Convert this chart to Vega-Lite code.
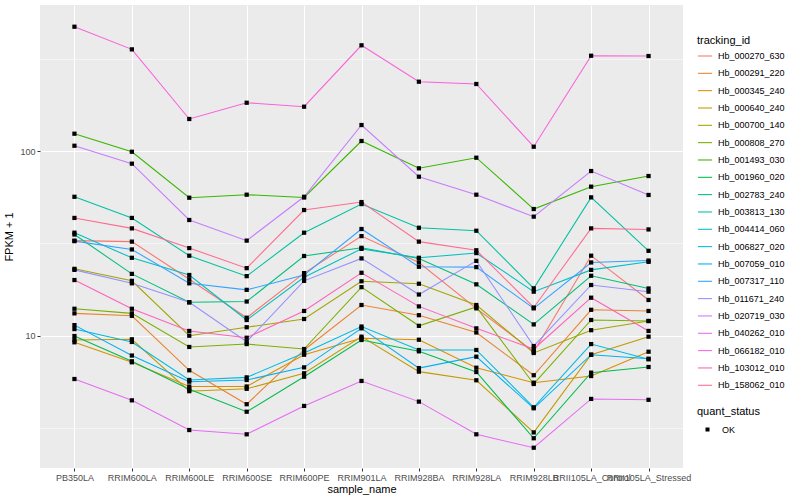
{
 "$schema": "https://vega.github.io/schema/vega-lite/v6.json",
 "autosize": "none",
 "width": 643,
 "height": 463,
 "padding": {"left": 40, "top": 5, "right": 117, "bottom": 32},
 "background": "white",
 "config": {
  "font": "Liberation Sans",
  "view": {"fill": "#EBEBEB", "stroke": null},
  "axis": {"domain": false, "labelColor": "#4D4D4D", "labelFontSize": 9, "titleFontSize": 11, "titleFontWeight": "normal", "titleColor": "black", "tickColor": "#333333", "tickSize": 3, "gridColor": "white", "gridWidth": 1.07, "labelPadding": 2},
  "legend": {"titleFontSize": 11, "titleFontWeight": "normal", "titleColor": "black", "labelFontSize": 9, "labelColor": "black", "padding": 0}
 },
 "data": {"values": [
{"tracking_id":"Hb_000270_630","sample_name":"PB350LA","fpkm":32.7,"quant_status":"OK"},
{"tracking_id":"Hb_000270_630","sample_name":"RRIM600LA","fpkm":32.3,"quant_status":"OK"},
{"tracking_id":"Hb_000270_630","sample_name":"RRIM600LE","fpkm":20.2,"quant_status":"OK"},
{"tracking_id":"Hb_000270_630","sample_name":"RRIM600SE","fpkm":12.5,"quant_status":"OK"},
{"tracking_id":"Hb_000270_630","sample_name":"RRIM600PE","fpkm":21.8,"quant_status":"OK"},
{"tracking_id":"Hb_000270_630","sample_name":"RRIM901LA","fpkm":34.6,"quant_status":"OK"},
{"tracking_id":"Hb_000270_630","sample_name":"RRIM928BA","fpkm":24.9,"quant_status":"OK"},
{"tracking_id":"Hb_000270_630","sample_name":"RRIM928LA","fpkm":14.05,"quant_status":"OK"},
{"tracking_id":"Hb_000270_630","sample_name":"RRIM928LB","fpkm":8.18,"quant_status":"OK"},
{"tracking_id":"Hb_000270_630","sample_name":"RRII105LA_Control","fpkm":27.1,"quant_status":"OK"},
{"tracking_id":"Hb_000270_630","sample_name":"RRII105LA_Stressed","fpkm":15.6,"quant_status":"OK"},
{"tracking_id":"Hb_000291_220","sample_name":"PB350LA","fpkm":13.2,"quant_status":"OK"},
{"tracking_id":"Hb_000291_220","sample_name":"RRIM600LA","fpkm":12.8,"quant_status":"OK"},
{"tracking_id":"Hb_000291_220","sample_name":"RRIM600LE","fpkm":6.49,"quant_status":"OK"},
{"tracking_id":"Hb_000291_220","sample_name":"RRIM600SE","fpkm":4.25,"quant_status":"OK"},
{"tracking_id":"Hb_000291_220","sample_name":"RRIM600PE","fpkm":8.36,"quant_status":"OK"},
{"tracking_id":"Hb_000291_220","sample_name":"RRIM901LA","fpkm":14.65,"quant_status":"OK"},
{"tracking_id":"Hb_000291_220","sample_name":"RRIM928BA","fpkm":12.9,"quant_status":"OK"},
{"tracking_id":"Hb_000291_220","sample_name":"RRIM928LA","fpkm":10.4,"quant_status":"OK"},
{"tracking_id":"Hb_000291_220","sample_name":"RRIM928LB","fpkm":6.1,"quant_status":"OK"},
{"tracking_id":"Hb_000291_220","sample_name":"RRII105LA_Control","fpkm":13.8,"quant_status":"OK"},
{"tracking_id":"Hb_000291_220","sample_name":"RRII105LA_Stressed","fpkm":13.6,"quant_status":"OK"},
{"tracking_id":"Hb_000345_240","sample_name":"PB350LA","fpkm":9.2,"quant_status":"OK"},
{"tracking_id":"Hb_000345_240","sample_name":"RRIM600LA","fpkm":7.17,"quant_status":"OK"},
{"tracking_id":"Hb_000345_240","sample_name":"RRIM600LE","fpkm":5.3,"quant_status":"OK"},
{"tracking_id":"Hb_000345_240","sample_name":"RRIM600SE","fpkm":5.3,"quant_status":"OK"},
{"tracking_id":"Hb_000345_240","sample_name":"RRIM600PE","fpkm":7.88,"quant_status":"OK"},
{"tracking_id":"Hb_000345_240","sample_name":"RRIM901LA","fpkm":9.67,"quant_status":"OK"},
{"tracking_id":"Hb_000345_240","sample_name":"RRIM928BA","fpkm":9.5,"quant_status":"OK"},
{"tracking_id":"Hb_000345_240","sample_name":"RRIM928LA","fpkm":6.7,"quant_status":"OK"},
{"tracking_id":"Hb_000345_240","sample_name":"RRIM928LB","fpkm":5.56,"quant_status":"OK"},
{"tracking_id":"Hb_000345_240","sample_name":"RRII105LA_Control","fpkm":6.04,"quant_status":"OK"},
{"tracking_id":"Hb_000345_240","sample_name":"RRII105LA_Stressed","fpkm":8.18,"quant_status":"OK"},
{"tracking_id":"Hb_000640_240","sample_name":"PB350LA","fpkm":9.47,"quant_status":"OK"},
{"tracking_id":"Hb_000640_240","sample_name":"RRIM600LA","fpkm":9.55,"quant_status":"OK"},
{"tracking_id":"Hb_000640_240","sample_name":"RRIM600LE","fpkm":5.0,"quant_status":"OK"},
{"tracking_id":"Hb_000640_240","sample_name":"RRIM600SE","fpkm":5.15,"quant_status":"OK"},
{"tracking_id":"Hb_000640_240","sample_name":"RRIM600PE","fpkm":6.25,"quant_status":"OK"},
{"tracking_id":"Hb_000640_240","sample_name":"RRIM901LA","fpkm":9.87,"quant_status":"OK"},
{"tracking_id":"Hb_000640_240","sample_name":"RRIM928BA","fpkm":6.38,"quant_status":"OK"},
{"tracking_id":"Hb_000640_240","sample_name":"RRIM928LA","fpkm":5.73,"quant_status":"OK"},
{"tracking_id":"Hb_000640_240","sample_name":"RRIM928LB","fpkm":2.99,"quant_status":"OK"},
{"tracking_id":"Hb_000640_240","sample_name":"RRII105LA_Control","fpkm":7.88,"quant_status":"OK"},
{"tracking_id":"Hb_000640_240","sample_name":"RRII105LA_Stressed","fpkm":9.87,"quant_status":"OK"},
{"tracking_id":"Hb_000700_140","sample_name":"PB350LA","fpkm":23.0,"quant_status":"OK"},
{"tracking_id":"Hb_000700_140","sample_name":"RRIM600LA","fpkm":19.8,"quant_status":"OK"},
{"tracking_id":"Hb_000700_140","sample_name":"RRIM600LE","fpkm":9.99,"quant_status":"OK"},
{"tracking_id":"Hb_000700_140","sample_name":"RRIM600SE","fpkm":11.1,"quant_status":"OK"},
{"tracking_id":"Hb_000700_140","sample_name":"RRIM600PE","fpkm":12.3,"quant_status":"OK"},
{"tracking_id":"Hb_000700_140","sample_name":"RRIM901LA","fpkm":19.7,"quant_status":"OK"},
{"tracking_id":"Hb_000700_140","sample_name":"RRIM928BA","fpkm":19.1,"quant_status":"OK"},
{"tracking_id":"Hb_000700_140","sample_name":"RRIM928LA","fpkm":14.65,"quant_status":"OK"},
{"tracking_id":"Hb_000700_140","sample_name":"RRIM928LB","fpkm":8.05,"quant_status":"OK"},
{"tracking_id":"Hb_000700_140","sample_name":"RRII105LA_Control","fpkm":10.7,"quant_status":"OK"},
{"tracking_id":"Hb_000700_140","sample_name":"RRII105LA_Stressed","fpkm":12.0,"quant_status":"OK"},
{"tracking_id":"Hb_000808_270","sample_name":"PB350LA","fpkm":13.98,"quant_status":"OK"},
{"tracking_id":"Hb_000808_270","sample_name":"RRIM600LA","fpkm":13.2,"quant_status":"OK"},
{"tracking_id":"Hb_000808_270","sample_name":"RRIM600LE","fpkm":8.68,"quant_status":"OK"},
{"tracking_id":"Hb_000808_270","sample_name":"RRIM600SE","fpkm":9.0,"quant_status":"OK"},
{"tracking_id":"Hb_000808_270","sample_name":"RRIM600PE","fpkm":8.46,"quant_status":"OK"},
{"tracking_id":"Hb_000808_270","sample_name":"RRIM901LA","fpkm":18.3,"quant_status":"OK"},
{"tracking_id":"Hb_000808_270","sample_name":"RRIM928BA","fpkm":11.3,"quant_status":"OK"},
{"tracking_id":"Hb_000808_270","sample_name":"RRIM928LA","fpkm":14.3,"quant_status":"OK"},
{"tracking_id":"Hb_000808_270","sample_name":"RRIM928LB","fpkm":5.47,"quant_status":"OK"},
{"tracking_id":"Hb_000808_270","sample_name":"RRII105LA_Control","fpkm":12.15,"quant_status":"OK"},
{"tracking_id":"Hb_000808_270","sample_name":"RRII105LA_Stressed","fpkm":12.0,"quant_status":"OK"},
{"tracking_id":"Hb_001493_030","sample_name":"PB350LA","fpkm":124.1,"quant_status":"OK"},
{"tracking_id":"Hb_001493_030","sample_name":"RRIM600LA","fpkm":99.1,"quant_status":"OK"},
{"tracking_id":"Hb_001493_030","sample_name":"RRIM600LE","fpkm":55.85,"quant_status":"OK"},
{"tracking_id":"Hb_001493_030","sample_name":"RRIM600SE","fpkm":58.0,"quant_status":"OK"},
{"tracking_id":"Hb_001493_030","sample_name":"RRIM600PE","fpkm":56.0,"quant_status":"OK"},
{"tracking_id":"Hb_001493_030","sample_name":"RRIM901LA","fpkm":113.3,"quant_status":"OK"},
{"tracking_id":"Hb_001493_030","sample_name":"RRIM928BA","fpkm":80.6,"quant_status":"OK"},
{"tracking_id":"Hb_001493_030","sample_name":"RRIM928LA","fpkm":92.0,"quant_status":"OK"},
{"tracking_id":"Hb_001493_030","sample_name":"RRIM928LB","fpkm":48.5,"quant_status":"OK"},
{"tracking_id":"Hb_001493_030","sample_name":"RRII105LA_Control","fpkm":64.1,"quant_status":"OK"},
{"tracking_id":"Hb_001493_030","sample_name":"RRII105LA_Stressed","fpkm":73.2,"quant_status":"OK"},
{"tracking_id":"Hb_001960_020","sample_name":"PB350LA","fpkm":9.95,"quant_status":"OK"},
{"tracking_id":"Hb_001960_020","sample_name":"RRIM600LA","fpkm":7.26,"quant_status":"OK"},
{"tracking_id":"Hb_001960_020","sample_name":"RRIM600LE","fpkm":5.12,"quant_status":"OK"},
{"tracking_id":"Hb_001960_020","sample_name":"RRIM600SE","fpkm":3.87,"quant_status":"OK"},
{"tracking_id":"Hb_001960_020","sample_name":"RRIM600PE","fpkm":5.99,"quant_status":"OK"},
{"tracking_id":"Hb_001960_020","sample_name":"RRIM901LA","fpkm":9.47,"quant_status":"OK"},
{"tracking_id":"Hb_001960_020","sample_name":"RRIM928BA","fpkm":8.22,"quant_status":"OK"},
{"tracking_id":"Hb_001960_020","sample_name":"RRIM928LA","fpkm":6.35,"quant_status":"OK"},
{"tracking_id":"Hb_001960_020","sample_name":"RRIM928LB","fpkm":2.78,"quant_status":"OK"},
{"tracking_id":"Hb_001960_020","sample_name":"RRII105LA_Control","fpkm":6.3,"quant_status":"OK"},
{"tracking_id":"Hb_001960_020","sample_name":"RRII105LA_Stressed","fpkm":6.76,"quant_status":"OK"},
{"tracking_id":"Hb_002783_240","sample_name":"PB350LA","fpkm":35.3,"quant_status":"OK"},
{"tracking_id":"Hb_002783_240","sample_name":"RRIM600LA","fpkm":21.6,"quant_status":"OK"},
{"tracking_id":"Hb_002783_240","sample_name":"RRIM600LE","fpkm":15.15,"quant_status":"OK"},
{"tracking_id":"Hb_002783_240","sample_name":"RRIM600SE","fpkm":15.3,"quant_status":"OK"},
{"tracking_id":"Hb_002783_240","sample_name":"RRIM600PE","fpkm":27.0,"quant_status":"OK"},
{"tracking_id":"Hb_002783_240","sample_name":"RRIM901LA","fpkm":29.9,"quant_status":"OK"},
{"tracking_id":"Hb_002783_240","sample_name":"RRIM928BA","fpkm":26.2,"quant_status":"OK"},
{"tracking_id":"Hb_002783_240","sample_name":"RRIM928LA","fpkm":18.96,"quant_status":"OK"},
{"tracking_id":"Hb_002783_240","sample_name":"RRIM928LB","fpkm":11.5,"quant_status":"OK"},
{"tracking_id":"Hb_002783_240","sample_name":"RRII105LA_Control","fpkm":21.1,"quant_status":"OK"},
{"tracking_id":"Hb_002783_240","sample_name":"RRII105LA_Stressed","fpkm":18.0,"quant_status":"OK"},
{"tracking_id":"Hb_003813_130","sample_name":"PB350LA","fpkm":56.5,"quant_status":"OK"},
{"tracking_id":"Hb_003813_130","sample_name":"RRIM600LA","fpkm":43.4,"quant_status":"OK"},
{"tracking_id":"Hb_003813_130","sample_name":"RRIM600LE","fpkm":27.1,"quant_status":"OK"},
{"tracking_id":"Hb_003813_130","sample_name":"RRIM600SE","fpkm":21.0,"quant_status":"OK"},
{"tracking_id":"Hb_003813_130","sample_name":"RRIM600PE","fpkm":36.1,"quant_status":"OK"},
{"tracking_id":"Hb_003813_130","sample_name":"RRIM901LA","fpkm":51.6,"quant_status":"OK"},
{"tracking_id":"Hb_003813_130","sample_name":"RRIM928BA","fpkm":38.4,"quant_status":"OK"},
{"tracking_id":"Hb_003813_130","sample_name":"RRIM928LA","fpkm":37.0,"quant_status":"OK"},
{"tracking_id":"Hb_003813_130","sample_name":"RRIM928LB","fpkm":18.04,"quant_status":"OK"},
{"tracking_id":"Hb_003813_130","sample_name":"RRII105LA_Control","fpkm":56.1,"quant_status":"OK"},
{"tracking_id":"Hb_003813_130","sample_name":"RRII105LA_Stressed","fpkm":28.8,"quant_status":"OK"},
{"tracking_id":"Hb_004414_060","sample_name":"PB350LA","fpkm":36.1,"quant_status":"OK"},
{"tracking_id":"Hb_004414_060","sample_name":"RRIM600LA","fpkm":26.4,"quant_status":"OK"},
{"tracking_id":"Hb_004414_060","sample_name":"RRIM600LE","fpkm":21.3,"quant_status":"OK"},
{"tracking_id":"Hb_004414_060","sample_name":"RRIM600SE","fpkm":12.15,"quant_status":"OK"},
{"tracking_id":"Hb_004414_060","sample_name":"RRIM600PE","fpkm":20.7,"quant_status":"OK"},
{"tracking_id":"Hb_004414_060","sample_name":"RRIM901LA","fpkm":29.5,"quant_status":"OK"},
{"tracking_id":"Hb_004414_060","sample_name":"RRIM928BA","fpkm":26.4,"quant_status":"OK"},
{"tracking_id":"Hb_004414_060","sample_name":"RRIM928LA","fpkm":28.0,"quant_status":"OK"},
{"tracking_id":"Hb_004414_060","sample_name":"RRIM928LB","fpkm":17.3,"quant_status":"OK"},
{"tracking_id":"Hb_004414_060","sample_name":"RRII105LA_Control","fpkm":22.7,"quant_status":"OK"},
{"tracking_id":"Hb_004414_060","sample_name":"RRII105LA_Stressed","fpkm":25.1,"quant_status":"OK"},
{"tracking_id":"Hb_006827_020","sample_name":"PB350LA","fpkm":10.85,"quant_status":"OK"},
{"tracking_id":"Hb_006827_020","sample_name":"RRIM600LA","fpkm":9.24,"quant_status":"OK"},
{"tracking_id":"Hb_006827_020","sample_name":"RRIM600LE","fpkm":5.75,"quant_status":"OK"},
{"tracking_id":"Hb_006827_020","sample_name":"RRIM600SE","fpkm":5.94,"quant_status":"OK"},
{"tracking_id":"Hb_006827_020","sample_name":"RRIM600PE","fpkm":8.05,"quant_status":"OK"},
{"tracking_id":"Hb_006827_020","sample_name":"RRIM901LA","fpkm":11.2,"quant_status":"OK"},
{"tracking_id":"Hb_006827_020","sample_name":"RRIM928BA","fpkm":8.36,"quant_status":"OK"},
{"tracking_id":"Hb_006827_020","sample_name":"RRIM928LA","fpkm":8.36,"quant_status":"OK"},
{"tracking_id":"Hb_006827_020","sample_name":"RRIM928LB","fpkm":4.09,"quant_status":"OK"},
{"tracking_id":"Hb_006827_020","sample_name":"RRII105LA_Control","fpkm":9.0,"quant_status":"OK"},
{"tracking_id":"Hb_006827_020","sample_name":"RRII105LA_Stressed","fpkm":7.44,"quant_status":"OK"},
{"tracking_id":"Hb_007059_010","sample_name":"PB350LA","fpkm":11.4,"quant_status":"OK"},
{"tracking_id":"Hb_007059_010","sample_name":"RRIM600LA","fpkm":7.8,"quant_status":"OK"},
{"tracking_id":"Hb_007059_010","sample_name":"RRIM600LE","fpkm":5.63,"quant_status":"OK"},
{"tracking_id":"Hb_007059_010","sample_name":"RRIM600SE","fpkm":5.75,"quant_status":"OK"},
{"tracking_id":"Hb_007059_010","sample_name":"RRIM600PE","fpkm":6.73,"quant_status":"OK"},
{"tracking_id":"Hb_007059_010","sample_name":"RRIM901LA","fpkm":10.95,"quant_status":"OK"},
{"tracking_id":"Hb_007059_010","sample_name":"RRIM928BA","fpkm":6.67,"quant_status":"OK"},
{"tracking_id":"Hb_007059_010","sample_name":"RRIM928LA","fpkm":7.69,"quant_status":"OK"},
{"tracking_id":"Hb_007059_010","sample_name":"RRIM928LB","fpkm":4.04,"quant_status":"OK"},
{"tracking_id":"Hb_007059_010","sample_name":"RRII105LA_Control","fpkm":7.88,"quant_status":"OK"},
{"tracking_id":"Hb_007059_010","sample_name":"RRII105LA_Stressed","fpkm":7.5,"quant_status":"OK"},
{"tracking_id":"Hb_007317_110","sample_name":"PB350LA","fpkm":32.5,"quant_status":"OK"},
{"tracking_id":"Hb_007317_110","sample_name":"RRIM600LA","fpkm":29.3,"quant_status":"OK"},
{"tracking_id":"Hb_007317_110","sample_name":"RRIM600LE","fpkm":19.2,"quant_status":"OK"},
{"tracking_id":"Hb_007317_110","sample_name":"RRIM600SE","fpkm":17.7,"quant_status":"OK"},
{"tracking_id":"Hb_007317_110","sample_name":"RRIM600PE","fpkm":21.3,"quant_status":"OK"},
{"tracking_id":"Hb_007317_110","sample_name":"RRIM901LA","fpkm":37.8,"quant_status":"OK"},
{"tracking_id":"Hb_007317_110","sample_name":"RRIM928BA","fpkm":23.6,"quant_status":"OK"},
{"tracking_id":"Hb_007317_110","sample_name":"RRIM928LA","fpkm":23.5,"quant_status":"OK"},
{"tracking_id":"Hb_007317_110","sample_name":"RRIM928LB","fpkm":14.05,"quant_status":"OK"},
{"tracking_id":"Hb_007317_110","sample_name":"RRII105LA_Control","fpkm":24.9,"quant_status":"OK"},
{"tracking_id":"Hb_007317_110","sample_name":"RRII105LA_Stressed","fpkm":25.5,"quant_status":"OK"},
{"tracking_id":"Hb_011671_240","sample_name":"PB350LA","fpkm":22.7,"quant_status":"OK"},
{"tracking_id":"Hb_011671_240","sample_name":"RRIM600LA","fpkm":19.2,"quant_status":"OK"},
{"tracking_id":"Hb_011671_240","sample_name":"RRIM600LE","fpkm":15.15,"quant_status":"OK"},
{"tracking_id":"Hb_011671_240","sample_name":"RRIM600SE","fpkm":9.27,"quant_status":"OK"},
{"tracking_id":"Hb_011671_240","sample_name":"RRIM600PE","fpkm":19.8,"quant_status":"OK"},
{"tracking_id":"Hb_011671_240","sample_name":"RRIM901LA","fpkm":26.2,"quant_status":"OK"},
{"tracking_id":"Hb_011671_240","sample_name":"RRIM928BA","fpkm":16.7,"quant_status":"OK"},
{"tracking_id":"Hb_011671_240","sample_name":"RRIM928LA","fpkm":25.4,"quant_status":"OK"},
{"tracking_id":"Hb_011671_240","sample_name":"RRIM928LB","fpkm":8.78,"quant_status":"OK"},
{"tracking_id":"Hb_011671_240","sample_name":"RRII105LA_Control","fpkm":18.8,"quant_status":"OK"},
{"tracking_id":"Hb_011671_240","sample_name":"RRII105LA_Stressed","fpkm":17.3,"quant_status":"OK"},
{"tracking_id":"Hb_020719_030","sample_name":"PB350LA","fpkm":106.8,"quant_status":"OK"},
{"tracking_id":"Hb_020719_030","sample_name":"RRIM600LA","fpkm":85.4,"quant_status":"OK"},
{"tracking_id":"Hb_020719_030","sample_name":"RRIM600LE","fpkm":42.3,"quant_status":"OK"},
{"tracking_id":"Hb_020719_030","sample_name":"RRIM600SE","fpkm":32.7,"quant_status":"OK"},
{"tracking_id":"Hb_020719_030","sample_name":"RRIM600PE","fpkm":56.5,"quant_status":"OK"},
{"tracking_id":"Hb_020719_030","sample_name":"RRIM901LA","fpkm":138.3,"quant_status":"OK"},
{"tracking_id":"Hb_020719_030","sample_name":"RRIM928BA","fpkm":72.6,"quant_status":"OK"},
{"tracking_id":"Hb_020719_030","sample_name":"RRIM928LA","fpkm":58.0,"quant_status":"OK"},
{"tracking_id":"Hb_020719_030","sample_name":"RRIM928LB","fpkm":44.1,"quant_status":"OK"},
{"tracking_id":"Hb_020719_030","sample_name":"RRII105LA_Control","fpkm":77.9,"quant_status":"OK"},
{"tracking_id":"Hb_020719_030","sample_name":"RRII105LA_Stressed","fpkm":57.8,"quant_status":"OK"},
{"tracking_id":"Hb_040262_010","sample_name":"PB350LA","fpkm":5.82,"quant_status":"OK"},
{"tracking_id":"Hb_040262_010","sample_name":"RRIM600LA","fpkm":4.46,"quant_status":"OK"},
{"tracking_id":"Hb_040262_010","sample_name":"RRIM600LE","fpkm":3.08,"quant_status":"OK"},
{"tracking_id":"Hb_040262_010","sample_name":"RRIM600SE","fpkm":2.92,"quant_status":"OK"},
{"tracking_id":"Hb_040262_010","sample_name":"RRIM600PE","fpkm":4.16,"quant_status":"OK"},
{"tracking_id":"Hb_040262_010","sample_name":"RRIM901LA","fpkm":5.68,"quant_status":"OK"},
{"tracking_id":"Hb_040262_010","sample_name":"RRIM928BA","fpkm":4.39,"quant_status":"OK"},
{"tracking_id":"Hb_040262_010","sample_name":"RRIM928LA","fpkm":2.92,"quant_status":"OK"},
{"tracking_id":"Hb_040262_010","sample_name":"RRIM928LB","fpkm":2.47,"quant_status":"OK"},
{"tracking_id":"Hb_040262_010","sample_name":"RRII105LA_Control","fpkm":4.54,"quant_status":"OK"},
{"tracking_id":"Hb_040262_010","sample_name":"RRII105LA_Stressed","fpkm":4.49,"quant_status":"OK"},
{"tracking_id":"Hb_066182_010","sample_name":"PB350LA","fpkm":471.3,"quant_status":"OK"},
{"tracking_id":"Hb_066182_010","sample_name":"RRIM600LA","fpkm":355.4,"quant_status":"OK"},
{"tracking_id":"Hb_066182_010","sample_name":"RRIM600LE","fpkm":149.1,"quant_status":"OK"},
{"tracking_id":"Hb_066182_010","sample_name":"RRIM600SE","fpkm":182.6,"quant_status":"OK"},
{"tracking_id":"Hb_066182_010","sample_name":"RRIM600PE","fpkm":173.8,"quant_status":"OK"},
{"tracking_id":"Hb_066182_010","sample_name":"RRIM901LA","fpkm":373.8,"quant_status":"OK"},
{"tracking_id":"Hb_066182_010","sample_name":"RRIM928BA","fpkm":237.4,"quant_status":"OK"},
{"tracking_id":"Hb_066182_010","sample_name":"RRIM928LA","fpkm":230.7,"quant_status":"OK"},
{"tracking_id":"Hb_066182_010","sample_name":"RRIM928LB","fpkm":105.5,"quant_status":"OK"},
{"tracking_id":"Hb_066182_010","sample_name":"RRII105LA_Control","fpkm":328.2,"quant_status":"OK"},
{"tracking_id":"Hb_066182_010","sample_name":"RRII105LA_Stressed","fpkm":327.0,"quant_status":"OK"},
{"tracking_id":"Hb_103012_010","sample_name":"PB350LA","fpkm":20.0,"quant_status":"OK"},
{"tracking_id":"Hb_103012_010","sample_name":"RRIM600LA","fpkm":13.98,"quant_status":"OK"},
{"tracking_id":"Hb_103012_010","sample_name":"RRIM600LE","fpkm":10.6,"quant_status":"OK"},
{"tracking_id":"Hb_103012_010","sample_name":"RRIM600SE","fpkm":9.74,"quant_status":"OK"},
{"tracking_id":"Hb_103012_010","sample_name":"RRIM600PE","fpkm":13.6,"quant_status":"OK"},
{"tracking_id":"Hb_103012_010","sample_name":"RRIM901LA","fpkm":21.9,"quant_status":"OK"},
{"tracking_id":"Hb_103012_010","sample_name":"RRIM928BA","fpkm":14.4,"quant_status":"OK"},
{"tracking_id":"Hb_103012_010","sample_name":"RRIM928LA","fpkm":10.95,"quant_status":"OK"},
{"tracking_id":"Hb_103012_010","sample_name":"RRIM928LB","fpkm":8.46,"quant_status":"OK"},
{"tracking_id":"Hb_103012_010","sample_name":"RRII105LA_Control","fpkm":16.05,"quant_status":"OK"},
{"tracking_id":"Hb_103012_010","sample_name":"RRII105LA_Stressed","fpkm":10.6,"quant_status":"OK"},
{"tracking_id":"Hb_158062_010","sample_name":"PB350LA","fpkm":43.4,"quant_status":"OK"},
{"tracking_id":"Hb_158062_010","sample_name":"RRIM600LA","fpkm":38.1,"quant_status":"OK"},
{"tracking_id":"Hb_158062_010","sample_name":"RRIM600LE","fpkm":29.8,"quant_status":"OK"},
{"tracking_id":"Hb_158062_010","sample_name":"RRIM600SE","fpkm":23.2,"quant_status":"OK"},
{"tracking_id":"Hb_158062_010","sample_name":"RRIM600PE","fpkm":47.9,"quant_status":"OK"},
{"tracking_id":"Hb_158062_010","sample_name":"RRIM901LA","fpkm":52.9,"quant_status":"OK"},
{"tracking_id":"Hb_158062_010","sample_name":"RRIM928BA","fpkm":32.3,"quant_status":"OK"},
{"tracking_id":"Hb_158062_010","sample_name":"RRIM928LA","fpkm":29.0,"quant_status":"OK"},
{"tracking_id":"Hb_158062_010","sample_name":"RRIM928LB","fpkm":14.2,"quant_status":"OK"},
{"tracking_id":"Hb_158062_010","sample_name":"RRII105LA_Control","fpkm":38.1,"quant_status":"OK"},
{"tracking_id":"Hb_158062_010","sample_name":"RRII105LA_Stressed","fpkm":37.6,"quant_status":"OK"}
 ]},
 "encoding": {
  "x": {"field": "sample_name", "type": "nominal",
        "sort": ["PB350LA","RRIM600LA","RRIM600LE","RRIM600SE","RRIM600PE","RRIM901LA","RRIM928BA","RRIM928LA","RRIM928LB","RRII105LA_Control","RRII105LA_Stressed"],
        "scale": {"type": "point", "padding": 0.6},
        "axis": {"title": "sample_name", "labelAngle": 0, "labelOverlap": false, "titlePadding": 1, "grid": true}},
  "y": {"field": "fpkm", "type": "quantitative",
        "scale": {"type": "log", "domain": [1.918, 618], "nice": false, "zero": false},
        "axis": {"title": "FPKM + 1", "values": [3.1623, 10, 31.623, 100, 316.23],
                 "labelExpr": "datum.value == 10 ? '10' : (datum.value == 100 ? '100' : '')",
                 "gridWidth": {"condition": {"test": "datum.value == 10 || datum.value == 100", "value": 1.07}, "value": 0.53},
                 "tickOpacity": {"condition": {"test": "datum.value == 10 || datum.value == 100", "value": 1}, "value": 0},
                 "titlePadding": 5}}
 },
 "layer": [
  {"mark": {"type": "line", "strokeWidth": 1.07},
   "encoding": {
    "color": {"field": "tracking_id", "type": "nominal",
      "scale": {"domain": ["Hb_000270_630","Hb_000291_220","Hb_000345_240","Hb_000640_240","Hb_000700_140","Hb_000808_270","Hb_001493_030","Hb_001960_020","Hb_002783_240","Hb_003813_130","Hb_004414_060","Hb_006827_020","Hb_007059_010","Hb_007317_110","Hb_011671_240","Hb_020719_030","Hb_040262_010","Hb_066182_010","Hb_103012_010","Hb_158062_010"],
                "range": ["#F8766D","#EA8331","#D89000","#C09B00","#A3A500","#7CAE00","#39B600","#00BB4E","#00BF7D","#00C1A3","#00BFC4","#00BAE0","#00B0F6","#35A2FF","#9590FF","#C77CFF","#E76BF3","#FA62DB","#FF62BC","#FF6C91"]},
      "legend": {"title": "tracking_id", "orient": "none", "legendX": 657, "legendY": 30, "symbolType": "stroke", "symbolSize": 200, "symbolStrokeWidth": 1.07, "rowPadding": 4.33, "titlePadding": 2, "labelOffset": 5}},
    "order": {"value": null}
   }},
  {"mark": {"type": "point", "filled": true, "color": "black", "size": 18, "opacity": 1},
   "encoding": {
    "shape": {"field": "quant_status", "type": "nominal", "scale": {"range": ["square"]},
      "legend": {"title": "quant_status", "orient": "none", "legendX": 657, "legendY": 401, "symbolSize": 16, "symbolFillColor": "black", "symbolStrokeColor": "black", "symbolOffset": 6, "labelOffset": 10, "titlePadding": 8}}
   }}
 ]
}
